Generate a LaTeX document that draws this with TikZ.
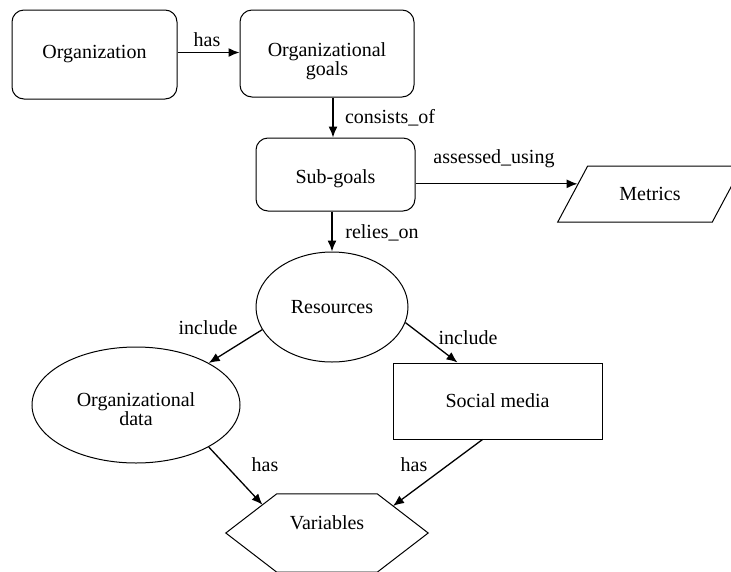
\documentclass[tikz,border=0pt]{standalone}
\usepackage{fontspec}
\setmainfont{Liberation Serif}
\usepackage{tikz}
\usetikzlibrary{shapes.geometric, arrows.meta, calc}
\tikzstyle{rbox} = [rectangle, rounded corners=12pt, draw, text centered, align=center, line width=1pt]
\tikzstyle{ell} = [ellipse, draw, align=center, line width=1pt, inner sep=0pt]
\tikzstyle{sbox} = [rectangle, draw, text centered, line width=1pt]
\tikzstyle{para} = [trapezium, trapezium left angle=51, trapezium right angle=129, trapezium stretches=true, draw, line width=1pt]
\tikzstyle{lbl} = [inner sep=0pt]
\tikzstyle{arrow} = [line width=1.3pt, -{Latex[length=11pt,width=9pt]}]

\begin{document}
\begin{tikzpicture}[x=1pt, y=-1pt, every node/.style={font=\fontsize{20}{18}\selectfont}]
  \useasboundingbox (0,0) rectangle (731,571);
  \clip (0,0) rectangle (731,571);

  \node (org) [rbox, minimum width=165pt, minimum height=89pt] at (94.5,54.5) {Organization};
  \node (og) [rbox, minimum width=174pt, minimum height=87pt] at (327,53.5) {\rule{0pt}{29pt}Organizational\\goals};
  \node (sg) [rbox, minimum width=159pt, minimum height=73pt] at (335.5,174.5) {\rule{0pt}{23pt}Sub-goals};
  \node (met) [para, minimum width=186pt, minimum height=56pt] at (650,194) {Metrics};
  \node (res) [ell, minimum width=152pt, minimum height=110pt] at (332,307) {Resources};
  \node (od) [ell, minimum width=208pt, minimum height=116pt] at (136,405) {\rule{0pt}{22pt}Organizational\\data};
  \node (sm) [sbox, minimum width=209pt, minimum height=76pt] at (497.5,401) {Social media};
  \node (var) [minimum width=202pt, minimum height=78pt] at (327,533) {Variables\rule[-20pt]{0pt}{20pt}};

  % hexagon round Variables
  \coordinate (vnw) at ([xshift=51pt]var.north west);
  \coordinate (vne) at ([xshift=-51pt]var.north east);
  \draw[line width=1pt] (var.west) -- (vnw) -- (vne) -- (var.east)
    -- ([xshift=-51pt]var.south east) -- ([xshift=51pt]var.south west) -- cycle;
  \coordinate (varl) at ($(var.west)!0.72!(vnw)$);
  \coordinate (varr) at ($(var.east)!0.69!(vne)$);

  \draw [arrow] ([yshift=2pt]org.east) -- ([yshift=2pt]org.east -| og.west);
  \draw [arrow] ([xshift=6pt]og.south) -- ([xshift=6pt]og.south |- sg.north);
  \draw [arrow] (met.172 -| sg.east) -- (met.172);
  \draw [arrow] (sg.south -| res.north) -- (res.north);
  \draw [arrow] (res.-162) -- (od.30);
  \draw [arrow] (res.-12) -- ([xshift=-40pt]sm.north);
  \draw [arrow] (od.-30) -- (varl);
  \draw [arrow] ([xshift=-15pt]sm.south) -- (varr);

  \node (hasa) [lbl] at (207,40) {has};
  \node (cons) [lbl] at (390,118) {consists\_of};
  \node (rel) [lbl] at (382,233) {relies\_on};
  \node (ass) [lbl] at (494,159) {assessed\_using};
  \node (incl) [lbl] at (208,328) {include};
  \node (incr) [lbl] at (468,338) {include};
  \node (hasl) [lbl] at (265,465) {has};
  \node (hasr) [lbl] at (414,465) {has};
\end{tikzpicture}
\end{document}
